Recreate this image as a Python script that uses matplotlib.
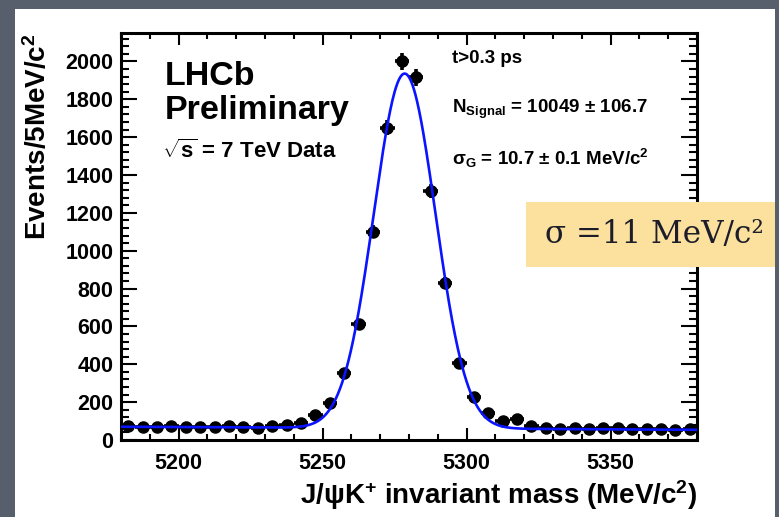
import numpy as np
import matplotlib
matplotlib.use("Agg")
import matplotlib.pyplot as plt
from matplotlib.patches import Rectangle

# ---------- data ----------
bin_width = 5.0
bin_centres = np.arange(5182.5, 5380.0, bin_width)
events = [72, 68, 70, 72, 70, 68, 70, 72, 68, 66,
          72, 80, 90, 130, 195, 355, 615, 1100, 1650, 2000,
          1915, 1315, 830, 405, 228, 142, 100, 110, 72, 62,
          60, 62, 60, 62, 64, 60, 58, 56, 55, 56]

# fit shown on the plot (gaussian + linear background)
fit_mean = 5278.5
fit_sigma = 10.7
fit_nsig = 10049
bkg_left, bkg_right = 70.0, 54.0

x_ticks = [5200, 5250, 5300, 5350]
y_ticks = [0, 200, 400, 600, 800, 1000, 1200, 1400, 1600, 1800, 2000]

# ---------- style ----------
plt.rcParams["font.family"] = ["Liberation Sans", "DejaVu Sans"]
plt.rcParams["font.weight"] = "bold"
plt.rcParams["mathtext.fontset"] = "custom"
plt.rcParams["mathtext.rm"] = "Liberation Sans:bold"
plt.rcParams["mathtext.bf"] = "Liberation Sans:bold"
plt.rcParams["mathtext.it"] = "Liberation Sans:bold:italic"
plt.rcParams["mathtext.sf"] = "Liberation Sans:bold"

fig = plt.figure(figsize=(7.79, 5.17), dpi=100)
fig.patch.set_facecolor("#575e6c")
# white slide panel (behind everything)
fig.patches.append(Rectangle((15 / 779, 0), 760 / 779, 508 / 517,
                             transform=fig.transFigure, facecolor="white",
                             edgecolor="none", zorder=-5))

ax = fig.add_axes([0.1553, 0.1489, 0.7394, 0.7873])
ax.set_zorder(2)
ax.set_facecolor("white")

ax.errorbar(bin_centres, events, xerr=bin_width / 2, yerr=np.sqrt(events),
            fmt="o", color="black", ms=8, elinewidth=2.6, capsize=0, zorder=3)

xs = np.linspace(5180, 5380, 801)
bkg = bkg_left + (bkg_right - bkg_left) * (xs - 5180) / 200
sig = fit_nsig * bin_width / (np.sqrt(2 * np.pi) * fit_sigma) * \
    np.exp(-0.5 * ((xs - fit_mean) / fit_sigma) ** 2)
ax.plot(xs, bkg + sig, color="#0a14ff", lw=1.9, zorder=4)

ax.set_xlim(5180, 5380)
ax.set_ylim(0, 2150)
ax.set_xticks(x_ticks)
ax.set_yticks(y_ticks)
ax.set_xticks(np.arange(5180, 5381, 10), minor=True)
ax.set_yticks(np.arange(0, 2150, 40), minor=True)
ax.tick_params(which="both", direction="in", top=True, right=True,
               width=1.5, labelsize=15.5, colors="black")
ax.tick_params(axis="x", which="major", length=8.5, pad=9)
ax.tick_params(axis="x", which="minor", length=4.3)
ax.tick_params(axis="y", which="major", length=11.5, pad=5.5)
ax.tick_params(axis="y", which="minor", length=5.8)
for lab in ax.get_xticklabels() + ax.get_yticklabels():
    lab.set_fontweight("bold")
for s in ax.spines.values():
    s.set_linewidth(2.2)

ax.set_xlabel(r"J/ψK$^{+}$ invariant mass (MeV/c$^{2}$)",
              fontsize=20, fontweight="bold", loc="right", va="center")
ax.xaxis.set_label_coords(1.0, -0.135)
ax.set_ylabel(r"Events/5MeV/c$^{2}$", fontsize=20, fontweight="bold",
              loc="top")
ax.yaxis.set_label_coords(-0.119, 1.0)

# labels inside the frame
ax.text(0.076, 0.872, "LHCb", transform=ax.transAxes, fontsize=24.5,
        fontweight="bold", va="baseline")
ax.text(0.076, 0.789, "Preliminary", transform=ax.transAxes, fontsize=24.5,
        fontweight="bold", va="baseline")
ax.text(0.071, 0.693, r"$\sqrt{\mathrm{s}}$ = 7 TeV Data",
        transform=ax.transAxes, fontsize=16, fontweight="bold", va="baseline")

ax.text(0.575, 0.926, "t>0.3 ps", transform=ax.transAxes, fontsize=13.5,
        fontweight="bold", va="baseline")
ax.text(0.575, 0.803, r"N$_{\mathrm{Signal}}$ = 10049 $\pm$ 106.7",
        transform=ax.transAxes, fontsize=13.5, fontweight="bold",
        va="baseline")
ax.text(0.575, 0.676, r"σ$_{\mathrm{G}}$ = 10.7 $\pm$ 0.1 MeV/c$^{2}$",
        transform=ax.transAxes, fontsize=13.5, fontweight="bold",
        va="baseline")

# yellow note box on top of the plot
fig.patches.append(Rectangle((526 / 779, 1 - 267 / 517), 249 / 779, 65 / 517,
                             transform=fig.transFigure, facecolor="#fbe19d",
                             edgecolor="none", zorder=10))
fig.text(545 / 779, 1 - 234.5 / 517, "σ =11 MeV/c²", family="DejaVu Serif",
         fontsize=22.3, fontweight="normal", color="#1c1c2a",
         va="center", ha="left", zorder=11)

fig.savefig("out.png", dpi=100, facecolor=fig.get_facecolor())
